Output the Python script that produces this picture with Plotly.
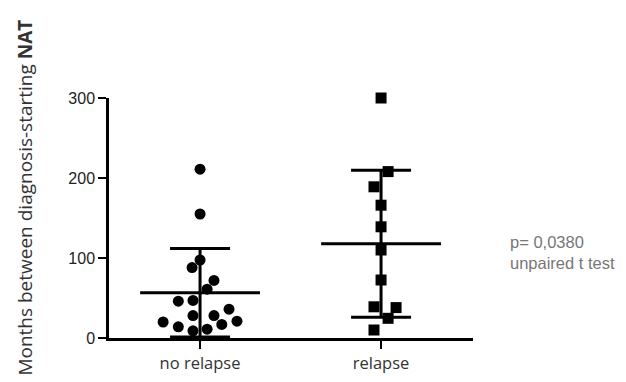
import numpy as np
import plotly.graph_objects as go

# ---- data ----
categories = ["no relapse", "relapse"]
no_relapse_months = [211, 155, 97.5, 88, 72, 61, 46, 47, 28, 36, 28, 20, 14, 21, 17, 11, 9]
relapse_months = [300, 208, 189, 166, 139, 110, 72.5, 39, 38, 24.6, 10]
y_ticks = [0, 100, 200, 300]
p_text = "p= 0,0380<br>unpaired t test"
y_title = "Months between diagnosis-starting <b>NAT</b>"

# horizontal scatter spread of the dots (in category widths)
no_relapse_spread = [0, 0, 0, -0.044, 0.077, 0.039, -0.12, -0.039, -0.039, 0.16,
                     0.077, -0.204, -0.12, 0.204, 0.12, 0.039, -0.039]
relapse_spread = [0, 0.039, -0.039, 0, 0, 0, 0, -0.039, 0.083, 0.039, -0.039]

groups = [no_relapse_months, relapse_months]
spreads = [no_relapse_spread, relapse_spread]
symbols = ["circle", "square"]

fig = go.Figure()
for i, (vals, spr, sym) in enumerate(zip(groups, spreads, symbols)):
    vals = np.array(vals, dtype=float)
    fig.add_trace(go.Scatter(
        x=[i + s for s in spr], y=vals, mode="markers",
        marker=dict(symbol=sym, size=11, color="black"),
        showlegend=False, cliponaxis=False, hoverinfo="y"))
    m = vals.mean()
    sd = vals.std(ddof=1)
    # mean line
    fig.add_trace(go.Scatter(
        x=[i - 0.331, i + 0.331], y=[m, m], mode="lines",
        line=dict(color="black", width=3), showlegend=False, cliponaxis=False))
    # SD error bar
    fig.add_trace(go.Scatter(
        x=[i], y=[m], mode="markers", marker=dict(size=1, color="rgba(0,0,0,0)"),
        error_y=dict(type="data", array=[sd], visible=True, color="black",
                     thickness=3, width=30),
        showlegend=False, cliponaxis=False))

fig.update_layout(
    width=626, height=382,
    margin=dict(l=109, r=153, t=98, b=44, autoexpand=False),
    paper_bgcolor="white", plot_bgcolor="white",
    xaxis=dict(range=[-0.503, 1.508], tickvals=[0, 1], ticktext=categories,
               showline=True, linecolor="black", linewidth=2.5,
               ticks="outside", ticklen=8, tickwidth=2, tickcolor="black",
               showgrid=False, zeroline=False, automargin=False,
               tickfont=dict(family="Open Sans", size=16.5, color="#333")),
    yaxis=dict(range=[0, 300], tickvals=y_ticks,
               showline=True, linecolor="black", linewidth=2.5,
               ticks="outside", ticklen=8, tickwidth=2, tickcolor="black",
               showgrid=False, zeroline=False, automargin=False,
               tickfont=dict(family="Liberation Sans", size=16, color="#222")),
    annotations=[
        dict(text=y_title, xref="paper", yref="paper", x=-0.2308, y=0.585,
             textangle=-90, showarrow=False, xanchor="center", yanchor="middle",
             font=dict(family="Open Sans", size=19, color="#333")),
        dict(text=p_text, xref="paper", yref="paper", x=1.096, y=0.355,
             showarrow=False, xanchor="left", yanchor="middle", align="left",
             font=dict(family="Liberation Sans", size=16.5, color="#777")),
    ],
)

fig.write_html("out.html", post_script="document.body.style.margin='0';",
               config={"displayModeBar": False})
